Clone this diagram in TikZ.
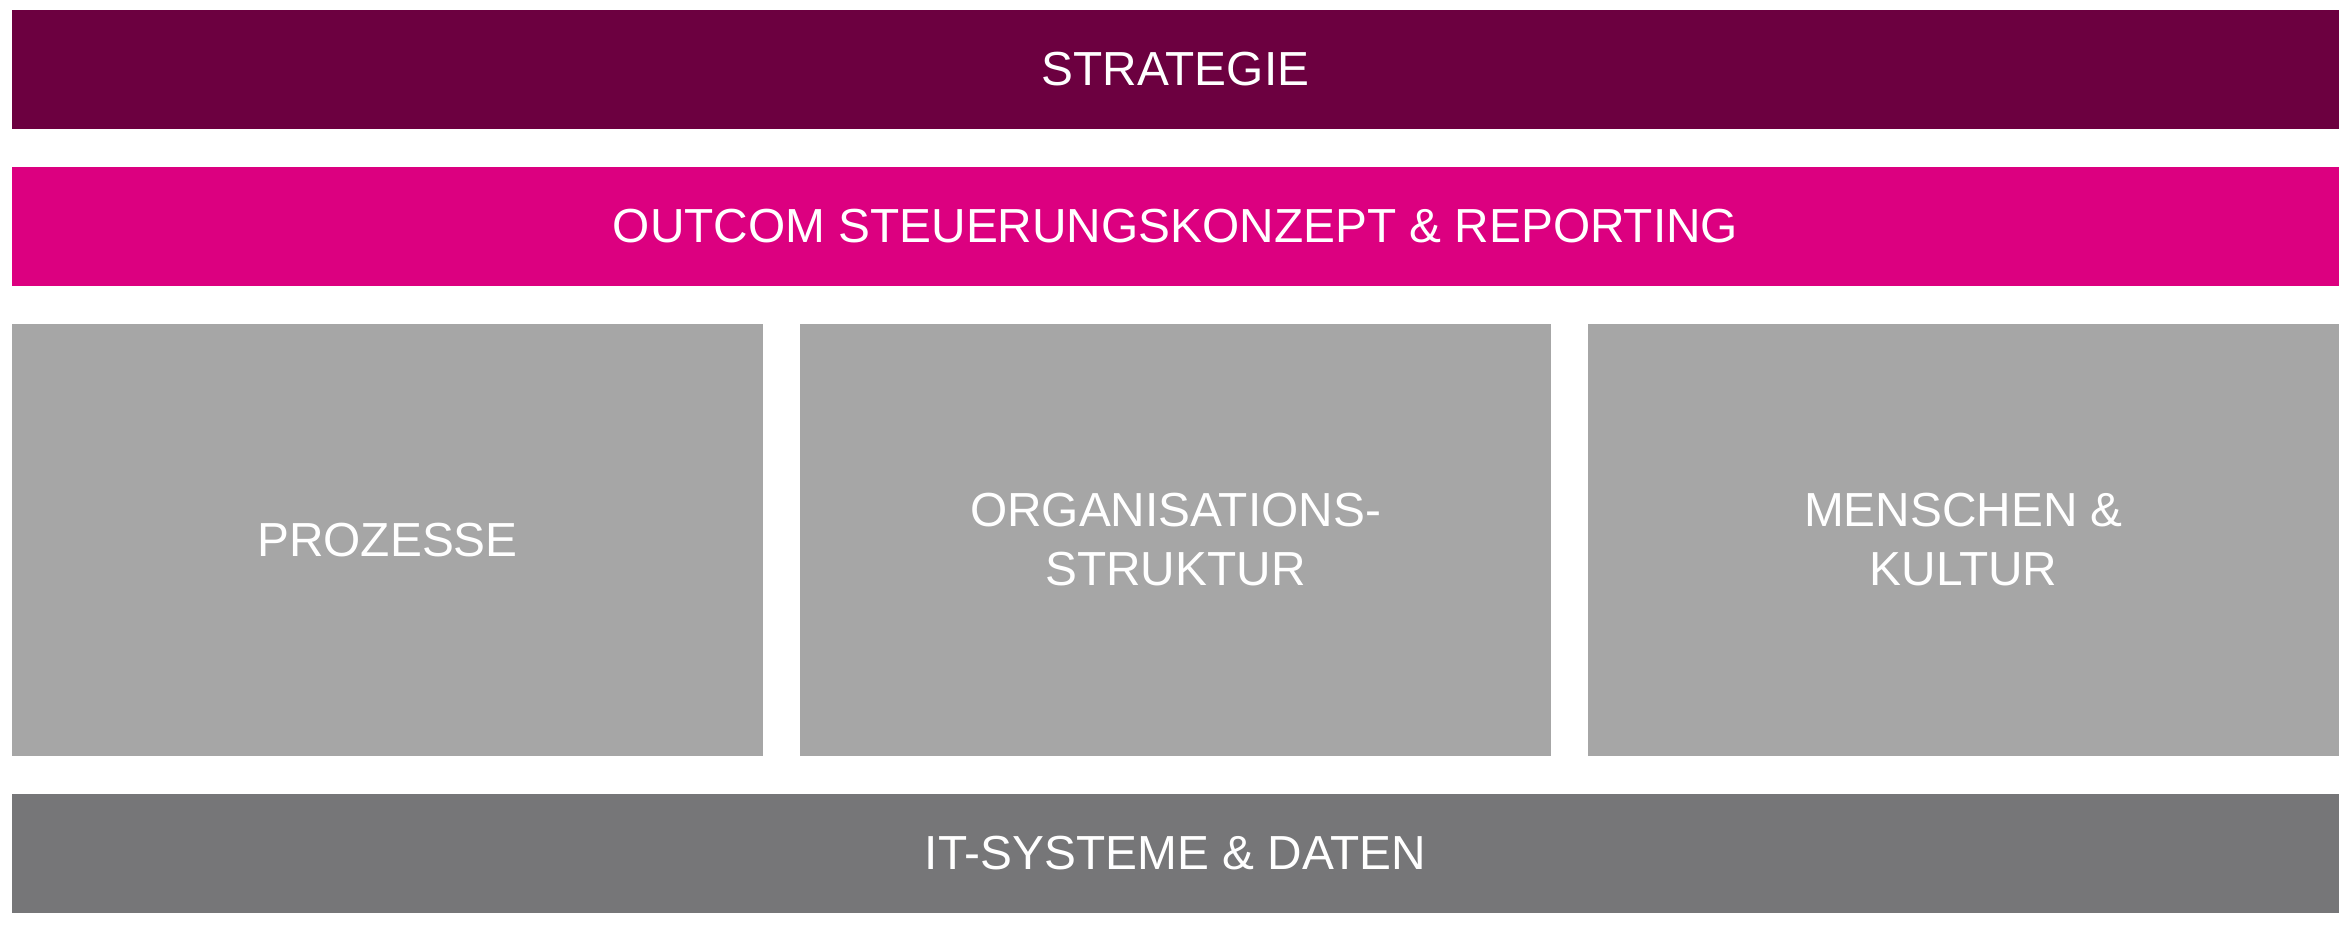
\documentclass[tikz,border=0pt]{standalone}
\usepackage{fontspec}
\setmainfont{Liberation Sans}
\definecolor{stratcol}{RGB}{108,0,64}
\definecolor{pinkcol}{RGB}{220,0,128}
\definecolor{lightgray}{RGB}{166,166,166}
\definecolor{darkgraycol}{RGB}{118,118,120}
\tikzset{
  band/.style={rectangle, inner sep=0pt, draw=none, text=white, align=center,
    font=\fontsize{47.8}{59}\selectfont},
  wideband/.style={band, minimum width=2327pt, minimum height=119pt},
  colbox/.style={band, fill=lightgray, minimum width=751pt, minimum height=432pt}
}
\begin{document}
\begin{tikzpicture}[x=1pt,y=-1pt]
\useasboundingbox (0,0) rectangle (2349,925);
\node[wideband, fill=stratcol] (strat) at (1175.5,69.5) {STRATEGIE};
\node[wideband, fill=pinkcol] (steuer) at (1175.5,226.5) {OUTCOM STEUERUNGSKONZEPT \& REPORTING};
\node[colbox] (proz) at (387.5,540) {PROZESSE};
\node[colbox] (org) at (1175.5,540) {ORGANISATIONS-\\STRUKTUR};
\node[colbox] (mensch) at (1963.5,540) {MENSCHEN \&\\KULTUR};
\node[wideband, fill=darkgraycol] (it) at (1175.5,853.5) {IT-SYSTEME \& DATEN};
\end{tikzpicture}
\end{document}
